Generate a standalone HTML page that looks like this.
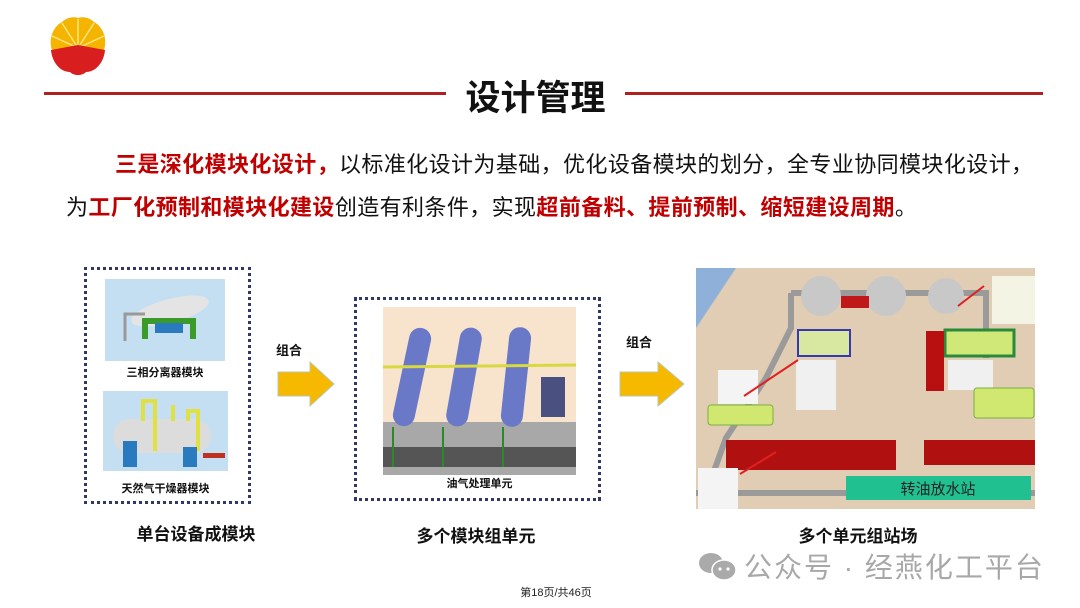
<!DOCTYPE html>
<html><head><meta charset="utf-8"><style>
*{margin:0;padding:0;box-sizing:border-box}
body{width:1080px;height:608px;background:#fff;position:relative;overflow:hidden;font-family:"Liberation Sans","Noto Sans CJK SC",sans-serif}
.a{position:absolute}
.line{position:absolute;height:3px;background:#b0201e;top:92px}
.p{position:absolute;font-size:22px;color:#111;white-space:nowrap;letter-spacing:0.4px}
.r{color:#c00000;font-weight:bold}
.box{position:absolute;border:3px dotted #303868}
.lbl{position:absolute;font-size:11px;color:#111;font-weight:bold;text-align:center}
.cap{position:absolute;font-size:17px;font-weight:bold;color:#111;text-align:center}
</style></head><body>
<svg class="a" style="left:46px;top:14px" width="64" height="64" viewBox="0 0 64 64">
<path d="M6 36 C2 24 8 12 16 8 C22 2 30 3 32 4 C34 3 42 2 48 8 C56 12 62 24 58 36 Z" fill="#f5b400"/>
<g stroke="#fff3a0" stroke-width="1.5" opacity=".8"><line x1="32" y1="34" x2="32" y2="5"/><line x1="32" y1="34" x2="16" y2="9"/><line x1="32" y1="34" x2="48" y2="9"/><line x1="32" y1="34" x2="6" y2="22"/><line x1="32" y1="34" x2="58" y2="22"/></g>
<path d="M5 36 L32 31 L59 36 C58 48 50 58 40 58 C36 62 28 62 24 58 C14 58 6 48 5 36 Z" fill="#d81e1e"/>
</svg>
<div class="line" style="left:44px;width:402px"></div>
<div class="line" style="left:625px;width:418px"></div>
<div class="a" style="left:446px;top:70px;width:179px;text-align:center;font-size:35px;font-weight:bold;color:#111">设计管理</div>

<div class="p" style="left:115px;top:147px"><span class="r">三是深化模块化设计，</span>以标准化设计为基础，优化设备模块的划分，全专业协同模块化设计，</div>
<div class="p" style="left:66px;top:190px">为<span class="r">工厂化预制和模块化建设</span>创造有利条件，实现<span class="r">超前备料、提前预制、缩短建设周期</span>。</div>

<div class="box" style="left:84px;top:267px;width:167px;height:237px"></div>
<svg class="a" style="left:105px;top:279px" width="120" height="82">
<rect width="120" height="82" fill="#c5dff2"/>
<ellipse cx="65" cy="32" rx="40" ry="12" fill="#e4e4e4" transform="rotate(-15 65 32)"/>
<path d="M40 60 V42 H88 V60" fill="none" stroke="#3a9a2a" stroke-width="6"/>
<rect x="50" y="44" width="28" height="10" fill="#2a7ac0"/>
<path d="M20 62 V35 H40" stroke="#999" stroke-width="3" fill="none"/>
</svg>
<div class="lbl" style="left:105px;top:364px;width:120px">三相分离器模块</div>
<svg class="a" style="left:103px;top:391px" width="125" height="80">
<rect width="125" height="80" fill="#c5dff2"/>
<rect x="10" y="28" width="98" height="34" rx="17" fill="#dcdcdc"/>
<path d="M40 30 V10 H52 V60 M70 30 V14 M85 30 V20 H95 V60" stroke="#e0e040" stroke-width="4" fill="none"/>
<rect x="20" y="50" width="14" height="26" fill="#2a7ac0"/><rect x="80" y="56" width="14" height="20" fill="#2a7ac0"/>
<rect x="100" y="62" width="22" height="5" fill="#c03020"/>
</svg>
<div class="lbl" style="left:103px;top:480px;width:125px">天然气干燥器模块</div>

<div class="a" style="left:276px;top:340px;font-size:13px;font-weight:bold;color:#111">组合</div>
<svg class="a" style="left:276px;top:360px" width="60" height="50"><polygon points="2,12 34,12 34,2 58,24 34,46 34,36 2,36" fill="#f7b800" stroke="#b8c8b0" stroke-width="1"/></svg>

<div class="box" style="left:354px;top:297px;width:247px;height:204px"></div>
<svg class="a" style="left:383px;top:307px" width="193" height="168">
<rect width="193" height="168" fill="#f8e4cc"/>
<rect x="0" y="115" width="193" height="53" fill="#a8a8a8"/>
<rect x="0" y="140" width="193" height="20" fill="#555"/>
<g fill="#6a78c8"><rect x="18" y="20" width="22" height="100" rx="11" transform="rotate(12 29 70)"/><rect x="70" y="20" width="22" height="100" rx="11" transform="rotate(10 81 70)"/><rect x="122" y="20" width="22" height="100" rx="11" transform="rotate(6 133 70)"/></g>
<line x1="0" y1="60" x2="193" y2="58" stroke="#d8d840" stroke-width="3"/>
<rect x="158" y="70" width="24" height="40" fill="#4a5080"/>
<path d="M10 160 V120 M60 160 V120 M120 160 V120" stroke="#2a8a2a" stroke-width="2"/>
</svg>
<div class="lbl" style="left:383px;top:475px;width:193px">油气处理单元</div>

<div class="a" style="left:626px;top:332px;font-size:13px;font-weight:bold;color:#111">组合</div>
<svg class="a" style="left:618px;top:360px" width="70" height="50"><polygon points="2,12 40,12 40,2 66,24 40,46 40,36 2,36" fill="#f7b800" stroke="#b8c8b0" stroke-width="1"/></svg>

<svg class="a" style="left:696px;top:268px" width="339" height="241" viewBox="0 0 339 241">
<rect width="339" height="241" fill="#e0cdb4"/>
<polygon points="0,0 40,0 0,60" fill="#8fb0d8"/>
<path d="M95 25 H290 V90 M95 25 V60 L70 110 L30 170 L10 225" stroke="#9a9a9a" stroke-width="6" fill="none"/>
<rect x="0" y="222" width="339" height="6" fill="#9a9a9a"/>
<g fill="#c8c8c8"><ellipse cx="125" cy="28" rx="20" ry="20"/><ellipse cx="190" cy="28" rx="20" ry="20"/><ellipse cx="250" cy="28" rx="18" ry="18"/></g>
<rect x="145" y="28" width="28" height="12" fill="#c01818"/>
<rect x="102" y="62" width="52" height="26" fill="#d8e8a0" stroke="#3838b0" stroke-width="2"/>
<rect x="249" y="62" width="69" height="26" fill="#d0e878" stroke="#2a8a3a" stroke-width="3"/>
<rect x="230" y="63" width="18" height="60" fill="#b81010"/>
<g fill="#f0f0f0"><rect x="100" y="92" width="40" height="50"/><rect x="252" y="92" width="45" height="30"/></g>
<rect x="12" y="137" width="65" height="20" rx="3" fill="#d0e870" stroke="#7ab040"/>
<rect x="278" y="120" width="60" height="30" rx="3" fill="#d0e870" stroke="#7ab040"/>
<rect x="30" y="172" width="170" height="30" fill="#b01010"/>
<rect x="228" y="172" width="115" height="25" fill="#b01010"/>
<rect x="150" y="208" width="185" height="24" fill="#20c090"/>
<text x="242" y="226" font-size="15" font-family="Noto Sans CJK SC,sans-serif" text-anchor="middle" fill="#222">转油放水站</text>
<rect x="22" y="102" width="40" height="34" fill="#f4f4f4"/>
<rect x="296" y="8" width="43" height="48" fill="#f4f4e4"/>
<rect x="2" y="200" width="40" height="41" fill="#f4f4f4"/>
<path d="M48 128 L102 92 M288 18 L262 38 M44 206 L80 184" stroke="#e02020" stroke-width="2"/>
</svg>

<div class="cap" style="left:100px;top:520px;width:192px">单台设备成模块</div>
<div class="cap" style="left:380px;top:522px;width:192px">多个模块组单元</div>
<div class="cap" style="left:762px;top:522px;width:192px">多个单元组站场</div>

<div class="a" style="left:500px;top:584px;width:112px;text-align:center;font-size:11px;color:#222">第18页/共46页</div>

<svg class="a" style="left:696px;top:550px" width="44" height="34"><ellipse cx="15" cy="13" rx="12" ry="10" fill="#aaa"/><ellipse cx="28" cy="20" rx="12" ry="10" fill="#aaa" stroke="#fff" stroke-width="1.5"/><circle cx="24" cy="19" r="1.6" fill="#fff"/><circle cx="32" cy="19" r="1.6" fill="#fff"/></svg>
<div class="a" style="left:744px;top:546px;font-size:28px;color:#a8a8a8;letter-spacing:2px;white-space:nowrap">公众号 · 经燕化工平台</div>
</body></html>
